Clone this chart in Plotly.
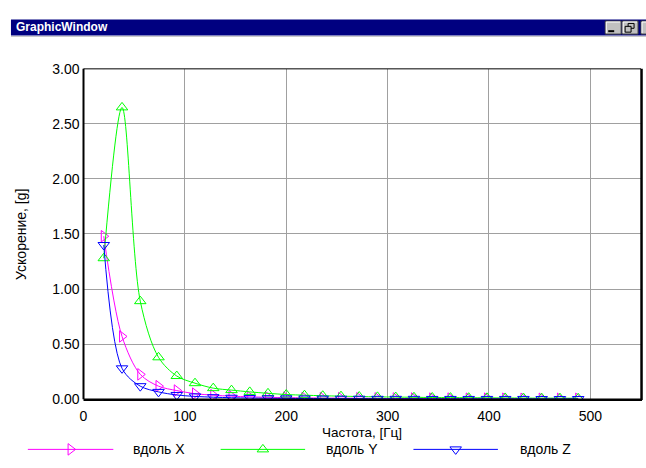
import plotly.graph_objects as go

W, H = 646, 468

# ---------------- data ----------------
freq = [20, 38, 56, 74, 92, 110, 128, 146, 164, 182, 200, 218, 236, 254,
        272, 290, 308, 326, 344, 362, 380, 398, 416, 434, 452, 470, 488]

accel_x = [1.48, 0.57, 0.225, 0.118, 0.078, 0.05, 0.036, 0.027, 0.021, 0.017,
           0.014, 0.012, 0.010, 0.009, 0.008, 0.007, 0.006, 0.006, 0.005, 0.005,
           0.004, 0.004, 0.004, 0.003, 0.003, 0.003, 0.003]
accel_y = [1.28, 2.65, 0.89, 0.38, 0.21, 0.145, 0.10, 0.082, 0.066, 0.053,
           0.042, 0.036, 0.031, 0.027, 0.024, 0.021, 0.019, 0.017, 0.015, 0.014,
           0.013, 0.012, 0.011, 0.010, 0.009, 0.009, 0.008]
accel_z = [1.40, 0.28, 0.118, 0.066, 0.038, 0.025, 0.018, 0.013, 0.010, 0.008,
           0.007, 0.006, 0.005, 0.004, 0.004, 0.003, 0.003, 0.003, 0.002, 0.002,
           0.002, 0.002, 0.002, 0.002, 0.001, 0.001, 0.001]

series_names = ["вдоль X", "вдоль Y", "вдоль Z"]
x_ticks = [0, 100, 200, 300, 400, 500]
y_ticks = [0, 0.5, 1.0, 1.5, 2.0, 2.5, 3.0]
x_title = "Частота, [Гц]"
y_title = "Ускорение, [g]"
window_title = "GraphicWindow"

# ---------------- styles ----------------
colors = ["#ff00ff", "#00ff00", "#0000ff"]
symbols = ["triangle-right-open", "triangle-up-open", "triangle-down-open"]
FONT = "Liberation Sans, Arial, sans-serif"

# plot area in pixels
PL, PR, PT, PB = 80, 641, 63, 405


def px(x):
    return x / W


def py(y):
    return 1 - y / H


fig = go.Figure()

for vals, name, c, s in zip([accel_x, accel_y, accel_z], series_names, colors, symbols):
    fig.add_trace(go.Scatter(
        x=freq, y=vals, name=name, mode="lines+markers",
        line=dict(color=c, width=1, shape="spline", smoothing=0.9),
        marker=dict(symbol=s, size=10, color=c, line=dict(width=1, color=c)),
        showlegend=False, xaxis="x", yaxis="y",
    ))

# custom legend drawn on a pixel-space overlay axis
leg_lines = [(24, 110), (218, 303), (412, 497)]
leg_text_x = [128, 322, 517]
LEG_Y = 457
for (x0, x1), name, c, s, tx in zip(leg_lines, series_names, colors, symbols, leg_text_x):
    fig.add_trace(go.Scatter(
        x=[x0, (x0 + x1) / 2, x1], y=[LEG_Y] * 3, mode="lines+markers",
        line=dict(color=c, width=1),
        marker=dict(symbol=s, size=10, color=c, opacity=[0, 1, 0], line=dict(width=1, color=c)),
        showlegend=False, hoverinfo="skip", xaxis="x2", yaxis="y2",
    ))

annotations = []
for name, tx in zip(series_names, leg_text_x):
    annotations.append(dict(x=px(tx), y=py(LEG_Y), xref="paper", yref="paper",
                            text=name, showarrow=False, xanchor="left", yanchor="middle",
                            font=dict(family=FONT, size=14, color="black")))

annotations.append(dict(x=px((PL + PR) / 2), y=py(440), xref="paper", yref="paper",
                        text=x_title, showarrow=False, xanchor="center", yanchor="middle",
                        font=dict(family=FONT, size=13.5, color="black")))
annotations.append(dict(x=px(17), y=py(234), xref="paper", yref="paper",
                        text=y_title, showarrow=False, textangle=-90,
                        xanchor="center", yanchor="middle",
                        font=dict(family=FONT, size=14, color="black")))
annotations.append(dict(x=px(10), y=py(20), xref="paper", yref="paper",
                        text="<b>" + window_title + "</b>", showarrow=False,
                        xanchor="left", yanchor="middle",
                        font=dict(family=FONT, size=12, color="white")))

shapes = []
# title bar
shapes.append(dict(type="rect", xref="paper", yref="paper", x0=px(7), x1=1.0,
                   y0=py(28.5), y1=py(12), fillcolor="#000080", line=dict(width=0), layer="below"))
shapes.append(dict(type="line", xref="paper", yref="paper", x0=px(7), x1=1.0,
                   y0=py(29.5), y1=py(29.5), line=dict(color="#c8c8c8", width=1)))
# window buttons
for bx0, bx1 in [(605, 621), (622, 638), (641, 650)]:
    shapes.append(dict(type="rect", xref="paper", yref="paper", x0=px(bx0), x1=px(bx1),
                       y0=py(27), y1=py(13.5), fillcolor="#c0c0c0",
                       line=dict(color="#404040", width=1)))
    shapes.append(dict(type="path", xref="paper", yref="paper",
                       path=f"M{px(bx0+1)},{py(26)} L{px(bx0+1)},{py(14.5)} L{px(bx1-1)},{py(14.5)}",
                       line=dict(color="white", width=1)))
# minimize glyph
shapes.append(dict(type="line", xref="paper", yref="paper", x0=px(608), x1=px(614),
                   y0=py(24), y1=py(24), line=dict(color="black", width=2)))
# restore glyph
shapes.append(dict(type="rect", xref="paper", yref="paper", x0=px(628), x1=px(634),
                   y0=py(21), y1=py(16), line=dict(color="black", width=1)))
shapes.append(dict(type="rect", xref="paper", yref="paper", x0=px(625), x1=px(631),
                   y0=py(25), y1=py(19), fillcolor="#c0c0c0", line=dict(color="black", width=1)))

# plot frame (thicker left/bottom/right like the reference)
shapes.append(dict(type="line", xref="paper", yref="paper", x0=px(PL), x1=px(PR),
                   y0=py(PT), y1=py(PT), line=dict(color="black", width=1)))
shapes.append(dict(type="line", xref="paper", yref="paper", x0=px(PL), x1=px(PL),
                   y0=py(PT), y1=py(PB), line=dict(color="black", width=2)))
shapes.append(dict(type="line", xref="paper", yref="paper", x0=px(PL), x1=px(PR + 1),
                   y0=py(PB + 0.5), y1=py(PB + 0.5), line=dict(color="black", width=2.5)))
shapes.append(dict(type="line", xref="paper", yref="paper", x0=px(PR + 0.5), x1=px(PR + 0.5),
                   y0=py(PT), y1=py(PB + 1), line=dict(color="black", width=2.5)))

fig.update_layout(
    width=W, height=H, autosize=False,
    margin=dict(l=0, r=0, t=0, b=0, pad=0),
    paper_bgcolor="white", plot_bgcolor="rgba(0,0,0,0)",
    font=dict(family=FONT, size=14, color="black"),
    showlegend=False,
    xaxis=dict(domain=[px(PL), px(PR)], range=[0, 550], tickvals=x_ticks,
               ticktext=[str(v) for v in x_ticks], showgrid=True, gridcolor="#a0a0a0",
               gridwidth=1, zeroline=False, showline=False, ticks="",
               ticklabelstandoff=7, anchor="y",
               tickfont=dict(family=FONT, size=14, color="black")),
    yaxis=dict(domain=[py(PB), py(PT)], range=[0, 3], tickvals=y_ticks,
               tickformat=".2f", showgrid=True, gridcolor="#a0a0a0", gridwidth=1,
               zeroline=False, showline=False, ticks="", ticklabelstandoff=3, anchor="x",
               tickfont=dict(family=FONT, size=14, color="black")),
    xaxis2=dict(domain=[0, 1], range=[0, W], visible=False, anchor="y2", fixedrange=True),
    yaxis2=dict(domain=[0, 1], range=[H, 0], visible=False, anchor="x2", fixedrange=True),
    shapes=shapes,
    annotations=annotations,
)

fig.write_html(
    "out.html",
    config={"displayModeBar": False},
    post_script="document.body.style.margin='0px';document.body.style.overflow='hidden';",
)
